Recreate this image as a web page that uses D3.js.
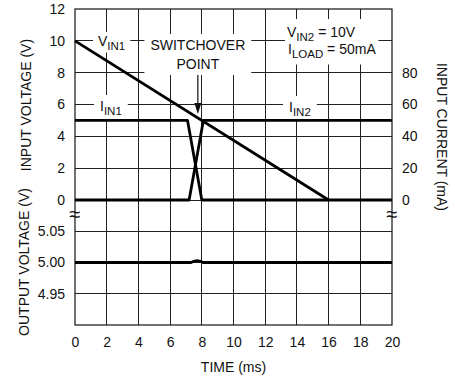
<!DOCTYPE html>
<html>
<head>
<meta charset="utf-8">
<script src="https://cdn.jsdelivr.net/npm/d3@7"></script>
<style>
  body { margin: 0; background: #fff; }
  svg { display: block; font-family: "Liberation Sans", Arial, sans-serif; }
</style>
</head>
<body>
<svg id="chart" width="455" height="379"></svg>
<script>
// time axis (ms)
const timeTicks = [0, 2, 4, 6, 8, 10, 12, 14, 16, 18, 20];
// input voltage (V) ticks, upper panel
const vinTicks = [0, 2, 4, 6, 8, 10, 12];
// output voltage (V) ticks, lower panel
const voutTicks = [4.95, 5.00, 5.05];
// input current (mA) ticks, right axis
const currentTicks = [0, 20, 40, 60, 80];

// series: [time ms, value]
const vin1 = [[0, 10], [16, 0]];
const iin1 = [[0, 50], [7.1, 50], [8.0, 0], [20, 0]];
const iin2 = [[0, 0], [7.2, 0], [8.1, 50], [20, 50]];
const vout = [[0, 5.0], [7.3, 5.0], [7.5, 5.002], [7.7, 5.003], [7.9, 5.002], [8.1, 5.0], [20, 5.0]];

const switchoverTime = 7.75;

(function () {
const svg = d3.select('#chart');
const pLeft = 75, pRight = 392, pTop = 9, pMid = 200, pBottom = 325;

const x = d3.scaleLinear().domain([0, 20]).range([pLeft, pRight]);
const yIn = d3.scaleLinear().domain([0, 12]).range([pMid, pTop]);
const yCur = d3.scaleLinear().domain([0, 120]).range([pMid, pTop]);
const yOut = d3.scaleLinear().domain([4.9, 5.1]).range([pBottom, pMid]);

// GRID
const grid = svg.append('g').attr('stroke', '#222').attr('stroke-width', 1).attr('shape-rendering', 'crispEdges');
grid.selectAll('line.v')
  .data(timeTicks.slice(1, -1))
  .join('line')
  .attr('x1', d => x(d)).attr('x2', d => x(d))
  .attr('y1', pTop).attr('y2', pBottom);
grid.selectAll('line.hin')
  .data(vinTicks.slice(0, -1))
  .join('line')
  .attr('x1', pLeft).attr('x2', pRight)
  .attr('y1', d => yIn(d)).attr('y2', d => yIn(d));
grid.selectAll('line.hout')
  .data(voutTicks)
  .join('line')
  .attr('x1', pLeft).attr('x2', pRight)
  .attr('y1', d => yOut(d)).attr('y2', d => yOut(d));

// LABELS (white boxes interrupt the grid)
const boxes = svg.append('g');
const labels = svg.append('g').attr('font-size', 14).attr('fill', '#111');

function subLabel(px, py, base, sub, rest, anchor) {
  const t = labels.append('text').attr('x', px).attr('y', py).attr('text-anchor', anchor || 'start');
  t.append('tspan').text(base);
  t.append('tspan').attr('font-size', 11.5).attr('dy', 3.5).text(sub);
  if (rest) t.append('tspan').attr('dy', -3.5).text(rest);
  return t;
}
function boxFor(nodes, padX, padY) {
  const bbs = nodes.map(n => n.node().getBBox());
  const x0 = d3.min(bbs, b => b.x) - padX, x1 = d3.max(bbs, b => b.x + b.width) + padX;
  const y0 = d3.min(bbs, b => b.y) - padY, y1 = d3.max(bbs, b => b.y + b.height) + padY;
  boxes.append('rect').attr('x', x0).attr('y', y0).attr('width', x1 - x0).attr('height', y1 - y0).attr('fill', '#fff');
}

const lVin1 = subLabel(98, 46, 'V', 'IN1');
boxFor([lVin1], 5, 1);
const lSw1 = labels.append('text').attr('x', x(switchoverTime)).attr('y', 50).attr('text-anchor', 'middle').text('SWITCHOVER');
const lSw2 = labels.append('text').attr('x', x(switchoverTime)).attr('y', 69).attr('text-anchor', 'middle').text('POINT');
boxFor([lSw1, lSw2], 6, 3);
const lV2 = subLabel(287, 37, 'V', 'IN2', ' = 10V');
const lIl = subLabel(288, 54, 'I', 'LOAD', ' = 50mA');
boxFor([lV2, lIl], 2, 5);
const lI1 = subLabel(100, 111, 'I', 'IN1');
boxFor([lI1], 6, 3);
const lI2 = subLabel(289, 112, 'I', 'IN2');
boxFor([lI2], 6, 3);

// arrow to switchover point
const arrowX = x(switchoverTime);
svg.append('line').attr('x1', arrowX).attr('x2', arrowX).attr('y1', 75).attr('y2', 106)
  .attr('stroke', '#111').attr('stroke-width', 1.2);
svg.append('path')
  .attr('d', `M${arrowX - 3.5},${103} L${arrowX + 3.5},${103} L${arrowX},${114} Z`)
  .attr('fill', '#111');

// BORDER
svg.append('rect').attr('x', pLeft).attr('y', pTop).attr('width', pRight - pLeft).attr('height', pBottom - pTop)
  .attr('fill', 'none').attr('stroke', '#111').attr('stroke-width', 1.2);

// DATA
const lineIn = d3.line().x(d => x(d[0])).y(d => yIn(d[1]));
const lineCur = d3.line().x(d => x(d[0])).y(d => yCur(d[1]));
const lineOut = d3.line().x(d => x(d[0])).y(d => yOut(d[1])).curve(d3.curveMonotoneX);
const dataG = svg.append('g').attr('fill', 'none').attr('stroke', '#000').attr('stroke-width', 2.8).attr('stroke-linejoin', 'round');
dataG.append('path').attr('d', lineCur(iin1));
dataG.append('path').attr('d', lineCur(iin2));
dataG.append('path').attr('d', lineIn(vin1));
dataG.append('path').attr('d', lineOut(vout));

// AXES (labels only)
const tickFont = g => g.attr('font-family', null).attr('font-size', 14).call(s => s.select('.domain').remove());
svg.append('g').attr('transform', `translate(${pLeft},0)`)
  .call(d3.axisLeft(yIn).tickValues(vinTicks).tickSize(0).tickPadding(10).tickFormat(d3.format('d')))
  .call(tickFont);
svg.append('g').attr('transform', `translate(${pLeft},0)`)
  .call(d3.axisLeft(yOut).tickValues(voutTicks).tickSize(0).tickPadding(10).tickFormat(d3.format('.2f')))
  .call(tickFont);
svg.append('g').attr('transform', `translate(${pRight},0)`)
  .call(d3.axisRight(yCur).tickValues(currentTicks).tickSize(0).tickPadding(10).tickFormat(d3.format('d')))
  .call(tickFont);
svg.append('g').attr('transform', `translate(0,${pBottom})`)
  .call(d3.axisBottom(x).tickValues(timeTicks).tickSize(0).tickPadding(12).tickFormat(d3.format('d')))
  .call(tickFont);
svg.selectAll('.tick text').attr('fill', '#111');

// axis break marks
[pLeft, pRight].forEach(bx => {
  svg.append('text').attr('x', bx).attr('y', 221).attr('text-anchor', 'middle')
    .attr('font-size', 20).attr('fill', '#111').text('\u2248');
});

// TITLES
svg.append('text').attr('transform', 'translate(31,105) rotate(-90)').attr('text-anchor', 'middle')
  .attr('font-size', 14).attr('fill', '#111').text('INPUT VOLTAGE (V)');
svg.append('text').attr('transform', 'translate(29,262) rotate(-90)').attr('text-anchor', 'middle')
  .attr('font-size', 14).attr('fill', '#111').text('OUTPUT VOLTAGE (V)');
svg.append('text').attr('transform', 'translate(437,137) rotate(90)').attr('text-anchor', 'middle')
  .attr('font-size', 14).attr('fill', '#111').text('INPUT CURRENT (mA)');
svg.append('text').attr('x', (pLeft + pRight) / 2).attr('y', 372).attr('text-anchor', 'middle')
  .attr('font-size', 14).attr('fill', '#111').text('TIME (ms)');
})();
</script>
</body>
</html>
